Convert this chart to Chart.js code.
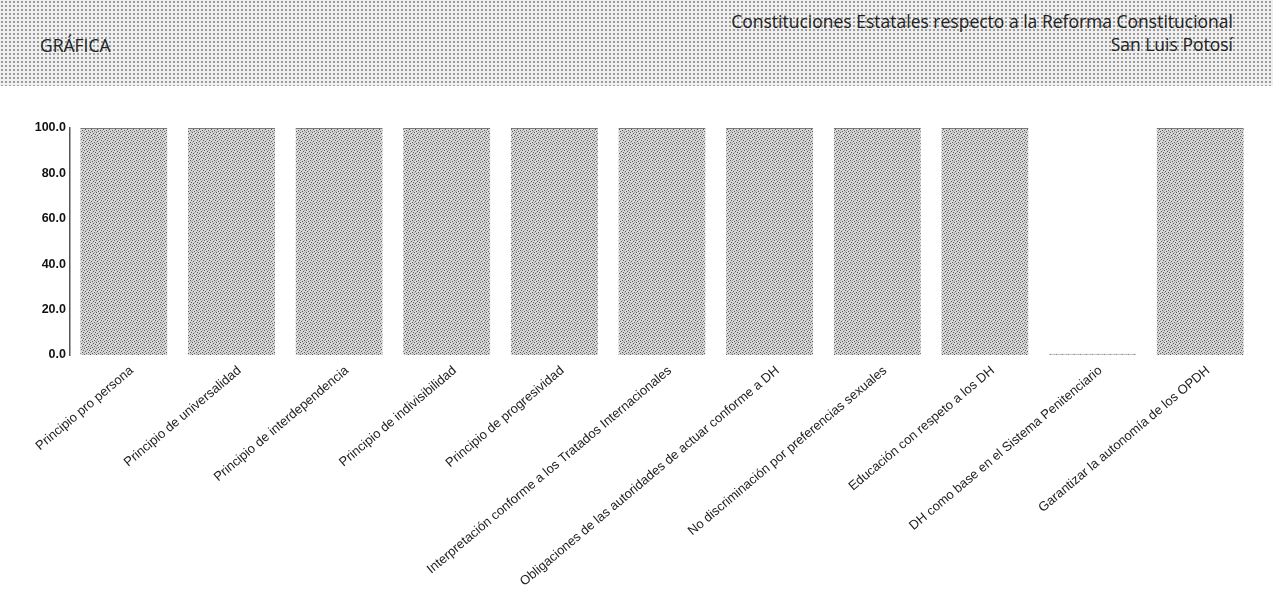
<!DOCTYPE html>
<html>
<head>
<meta charset="utf-8">
<script src="https://cdn.jsdelivr.net/npm/chart.js@4"></script>
<style>
  html, body { margin: 0; padding: 0; background: #fff; }
  #wrap { position: relative; width: 1273px; height: 593px; overflow: hidden; }
  #head {
    position: absolute; left: 0; top: 0; width: 1273px; height: 86px;
    background-color: #f0f0f0;
    background-image: radial-gradient(#9a9a9a 0.7px, transparent 0.9px);
    background-size: 4px 4px;
    font-family: "Open Sans", "Noto Sans", sans-serif;
    color: #222;
  }
  #head .left { position: absolute; left: 40px; top: 33px; font-size: 17.5px; }
  #head .right { position: absolute; right: 40px; top: 10px; font-size: 17.5px; text-align: right; line-height: 23px; }
  #chartBox { position: absolute; left: 0; top: 0; width: 1273px; height: 593px; }
</style>
</head>
<body>
<div id="wrap">
  <div id="head">
    <div class="left">GRÁFICA</div>
    <div class="right">Constituciones Estatales respecto a la Reforma Constitucional<br>San Luis Potosí</div>
  </div>
  <div id="chartBox"><canvas id="grafica"></canvas></div>
</div>
<script>
// 데이터
const categorias = [
  "Principio pro persona",
  "Principio de universalidad",
  "Principio de interdependencia",
  "Principio de indivisibilidad",
  "Principio de progresividad",
  "Interpretación conforme a los Tratados Internacionales",
  "Obligaciones de las autoridades de actuar conforme a DH",
  "No discriminación por preferencias sexuales",
  "Educación con respeto a los DH",
  "DH como base en el Sistema Penitenciario",
  "Garantizar la autonomía de los OPDH",
];
const valores = [100, 100, 100, 100, 100, 100, 100, 100, 100, 0.5, 100];
const yTicks = [0, 20, 40, 60, 80, 100];

// 점묘 패턴 (막대 채우기)
function stipple() {
  const c = document.createElement("canvas");
  c.width = 6;
  c.height = 6;
  const g = c.getContext("2d");
  g.fillStyle = "#d6d6d6";
  g.fillRect(0, 0, 6, 6);
  g.fillStyle = "#5a5a5a";
  [[0, 0], [3, 1], [1, 3], [4, 4], [5, 2], [2, 5]].forEach(([x, y]) => g.fillRect(x, y, 1, 1));
  g.fillStyle = "#aaaaaa";
  [[2, 2], [5, 5], [0, 4], [4, 0]].forEach(([x, y]) => g.fillRect(x, y, 1, 1));
  return g.createPattern(c, "repeat");
}

function grafica_chart() {
  const canvas = document.getElementById("grafica");
  canvas.width = 1273;
  canvas.height = 593;
  const ctx = canvas.getContext("2d");

  const options = {
    responsive: false,
    animation: false,
    layout: { padding: { top: 128, left: 26, right: 19, bottom: 0 } },
    scales: {
      x: {
        grid: { display: false },
        border: { display: false },
        ticks: {
          minRotation: 40,
          maxRotation: 40,
          autoSkip: false,
          color: "#222",
          padding: 0,
          labelOffset: 8,
          font: { family: "'Liberation Sans', Arial, sans-serif", size: 13 },
        },
        afterFit(scale) {
          scale.height = 238;
        },
      },
      y: {
        min: 0,
        max: 100,
        afterBuildTicks(scale) {
          scale.ticks = yTicks.map((v) => ({ value: v }));
        },
        grid: { display: false, drawTicks: false },
        border: { display: true, color: "#555", width: 1.5 },
        ticks: {
          color: "#111",
          padding: 4,
          font: { family: "'Liberation Sans', Arial, sans-serif", size: 12.5, weight: "bold" },
          callback: (v) => v.toFixed(1),
        },
        afterFit(scale) {
          scale.width = 44;
        },
      },
    },
    plugins: {
      legend: { display: false },
      tooltip: { enabled: false },
    },
  };

  const config = {
    type: "bar",
    data: {
      labels: categorias,
      datasets: [
        {
          data: valores,
          backgroundColor: stipple(),
          borderColor: "#777",
          borderWidth: { top: 1, left: 0, right: 0, bottom: 0 },
          borderSkipped: "bottom",
          categoryPercentage: 1,
          barPercentage: 0.81,
        },
      ],
    },
    options: options,
  };

  new Chart(ctx, config);
}
grafica_chart();
</script>
</body>
</html>
